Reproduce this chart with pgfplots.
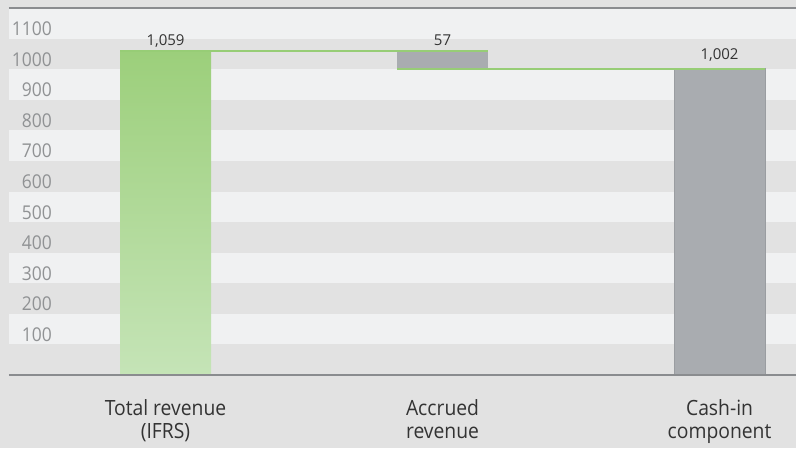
\documentclass[border=0pt]{standalone}
\usepackage{pgfplots}
\pgfplotsset{compat=1.18}
\usepackage{fontspec}
\setmainfont{Open Sans}
\newfontfamily\narrow{Open Sans}[FakeStretch=0.92]
\definecolor{bg}{HTML}{E2E2E2}
\definecolor{band}{HTML}{F0F1F2}
\definecolor{axisgray}{HTML}{8A8C8F}
\definecolor{tickgray}{HTML}{909294}
\definecolor{gtop}{HTML}{9CCF7B}
\definecolor{gbot}{HTML}{C5E4B7}
\definecolor{gline}{HTML}{97CD76}
\definecolor{barg}{HTML}{A9ACB0}
\definecolor{bargedge}{HTML}{9A9DA1}
\definecolor{txt}{HTML}{333333}
\begin{document}
\begin{tikzpicture}[x=1pt,y=1pt]
\fill[bg] (0,0) rectangle (796,448);
\begin{axis}[
  at={(9pt,73pt)}, anchor=south west,
  scale only axis, width=787pt, height=367pt,
  xmin=-0.565, xmax=2.276, ymin=0, ymax=1200,
  axis line style={draw=none},
  axis on top,
  major tick length=0pt,
  xtick={0,1,2},
  xticklabels={{Total revenue\\(IFRS)},{Accrued\\revenue},{Cash-in\\component}},
  xticklabel style={font=\narrow\fontsize{21}{23}\selectfont, text=txt, align=center, anchor=north, inner sep=0pt, yshift=-24pt},
  ytick={100,200,300,400,500,600,700,800,900,1000,1100},
  yticklabels={100,200,300,400,500,600,700,800,900,1000,1100},
  yticklabel style={font=\narrow\fontsize{19}{21}\selectfont, text=tickgray, anchor=base east, inner sep=0pt, xshift=43pt, yshift=3pt},
  clip=false,
]
\fill[band] (axis cs:-0.565,100) rectangle (axis cs:2.276,200);
\fill[band] (axis cs:-0.565,300) rectangle (axis cs:2.276,400);
\fill[band] (axis cs:-0.565,500) rectangle (axis cs:2.276,600);
\fill[band] (axis cs:-0.565,700) rectangle (axis cs:2.276,800);
\fill[band] (axis cs:-0.565,900) rectangle (axis cs:2.276,1000);
\fill[band] (axis cs:-0.565,1100) rectangle (axis cs:2.276,1200);
\addplot[ybar, bar width=91pt, bar shift=0pt, draw=none, top color=gtop, bottom color=gbot] coordinates {(0,1059)};
\addplot[ybar, bar width=91pt, bar shift=0pt, fill=barg, draw=bargedge, line width=1pt] coordinates {(2,1002)};
\addplot[fill=barg, draw=none] coordinates {(0.8357,1002) (1.1643,1002) (1.1643,1059) (0.8357,1059)} -- cycle;
\addplot[gline, line width=2pt] coordinates {(-0.1643,1059) (1.1643,1059)};
\addplot[gline, line width=2pt] coordinates {(0.8357,1002) (2.1643,1002)};
\draw[axisgray, line width=2.5pt] (axis cs:-0.565,0) -- (axis cs:2.276,0);
\draw[axisgray, line width=2.5pt] (axis cs:-0.565,1200) -- (axis cs:2.276,1200);
\node[font=\fontsize{15}{17}\selectfont, text=txt, anchor=base, yshift=6pt] at (axis cs:0,1059) {1,059};
\node[font=\fontsize{15}{17}\selectfont, text=txt, anchor=base, yshift=6pt] at (axis cs:1,1059) {57};
\node[font=\fontsize{15}{17}\selectfont, text=txt, anchor=base, yshift=9pt] at (axis cs:2,1002) {1,002};
\end{axis}
\pgfresetboundingbox
\useasboundingbox (0,0) rectangle (796,448);
\end{tikzpicture}
\end{document}
